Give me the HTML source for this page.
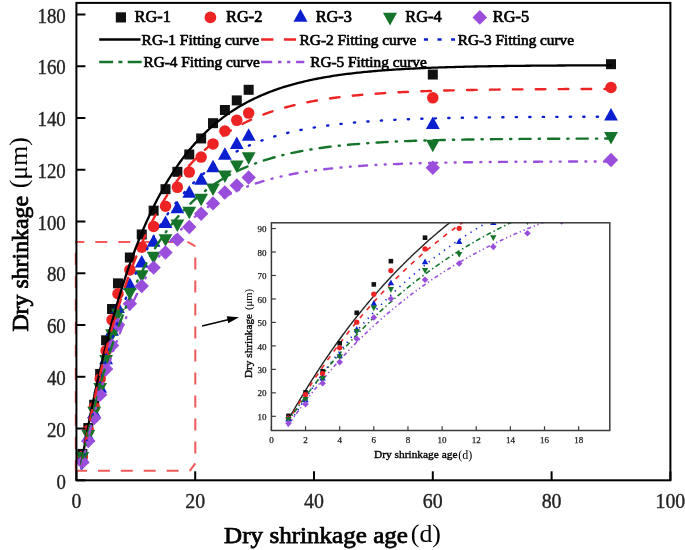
<!DOCTYPE html><html><head><meta charset="utf-8"><style>html,body{margin:0;padding:0;background:#fff;}svg{display:block;filter:blur(0.35px);}text{font-family:"Liberation Serif",serif;}</style></head><body>
<svg width="685" height="550" viewBox="0 0 685 550">
<rect width="685" height="550" fill="#fff"/>
<path d="M75,470.8 L189.8,470.8" fill="none" stroke="#f25a5a" stroke-width="2" stroke-dasharray="12 10.9" stroke-dashoffset="0"/>
<path d="M189.8,470.8 L195.3,463.3" fill="none" stroke="#f25a5a" stroke-width="2"/>
<path d="M195.3,463.3 L195.3,246.2" fill="none" stroke="#f25a5a" stroke-width="2" stroke-dasharray="12 11" stroke-dashoffset="13.3"/>
<path d="M195.3,246.2 L187.6,241.9" fill="none" stroke="#f25a5a" stroke-width="2"/>
<path d="M187.6,241.9 L75,241.9" fill="none" stroke="#f25a5a" stroke-width="2" stroke-dasharray="12 11" stroke-dashoffset="11.7"/>
<path d="M75.8,241.9 L75.8,470.8" fill="none" stroke="#f25a5a" stroke-width="2" stroke-dasharray="12 11" stroke-dashoffset="11.9"/>
<rect x="77.34" y="448.90" width="10.00" height="10.00" fill="#111111"/>
<rect x="83.28" y="423.03" width="10.00" height="10.00" fill="#111111"/>
<rect x="89.22" y="399.74" width="10.00" height="10.00" fill="#111111"/>
<rect x="95.16" y="368.94" width="10.00" height="10.00" fill="#111111"/>
<rect x="101.10" y="335.30" width="10.00" height="10.00" fill="#111111"/>
<rect x="107.04" y="303.99" width="10.00" height="10.00" fill="#111111"/>
<rect x="112.98" y="278.37" width="10.00" height="10.00" fill="#111111"/>
<rect x="124.86" y="252.49" width="10.00" height="10.00" fill="#111111"/>
<rect x="136.74" y="229.46" width="10.00" height="10.00" fill="#111111"/>
<rect x="148.62" y="205.65" width="10.00" height="10.00" fill="#111111"/>
<rect x="160.50" y="184.17" width="10.00" height="10.00" fill="#111111"/>
<rect x="172.38" y="166.83" width="10.00" height="10.00" fill="#111111"/>
<rect x="184.26" y="149.50" width="10.00" height="10.00" fill="#111111"/>
<rect x="196.14" y="133.45" width="10.00" height="10.00" fill="#111111"/>
<rect x="208.02" y="118.18" width="10.00" height="10.00" fill="#111111"/>
<rect x="219.90" y="104.99" width="10.00" height="10.00" fill="#111111"/>
<rect x="231.78" y="95.41" width="10.00" height="10.00" fill="#111111"/>
<rect x="243.66" y="84.80" width="10.00" height="10.00" fill="#111111"/>
<rect x="427.80" y="69.53" width="10.00" height="10.00" fill="#111111"/>
<rect x="606.00" y="59.18" width="10.00" height="10.00" fill="#111111"/>
<circle cx="82.34" cy="456.49" r="5.75" fill="#ee2424"/>
<circle cx="88.28" cy="430.61" r="5.75" fill="#ee2424"/>
<circle cx="94.22" cy="407.32" r="5.75" fill="#ee2424"/>
<circle cx="100.16" cy="378.86" r="5.75" fill="#ee2424"/>
<circle cx="106.10" cy="350.65" r="5.75" fill="#ee2424"/>
<circle cx="112.04" cy="319.86" r="5.75" fill="#ee2424"/>
<circle cx="117.98" cy="293.72" r="5.75" fill="#ee2424"/>
<circle cx="129.86" cy="269.91" r="5.75" fill="#ee2424"/>
<circle cx="141.74" cy="247.14" r="5.75" fill="#ee2424"/>
<circle cx="153.62" cy="226.44" r="5.75" fill="#ee2424"/>
<circle cx="165.50" cy="206.25" r="5.75" fill="#ee2424"/>
<circle cx="177.38" cy="187.36" r="5.75" fill="#ee2424"/>
<circle cx="189.26" cy="172.09" r="5.75" fill="#ee2424"/>
<circle cx="201.14" cy="157.08" r="5.75" fill="#ee2424"/>
<circle cx="213.02" cy="143.89" r="5.75" fill="#ee2424"/>
<circle cx="224.90" cy="130.95" r="5.75" fill="#ee2424"/>
<circle cx="236.78" cy="120.34" r="5.75" fill="#ee2424"/>
<circle cx="248.66" cy="113.09" r="5.75" fill="#ee2424"/>
<circle cx="432.80" cy="97.82" r="5.75" fill="#ee2424"/>
<circle cx="611.00" cy="87.47" r="5.75" fill="#ee2424"/>
<path d="M82.34,450.76L89.24,463.26L75.44,463.26Z" fill="#0b1fd0"/>
<path d="M88.28,429.54L95.18,442.04L81.38,442.04Z" fill="#0b1fd0"/>
<path d="M94.22,405.47L101.12,417.97L87.32,417.97Z" fill="#0b1fd0"/>
<path d="M100.16,380.37L107.06,392.87L93.26,392.87Z" fill="#0b1fd0"/>
<path d="M106.10,351.65L113.00,364.15L99.20,364.15Z" fill="#0b1fd0"/>
<path d="M112.04,323.18L118.94,335.68L105.14,335.68Z" fill="#0b1fd0"/>
<path d="M117.98,300.41L124.88,312.91L111.08,312.91Z" fill="#0b1fd0"/>
<path d="M129.86,277.38L136.76,289.88L122.96,289.88Z" fill="#0b1fd0"/>
<path d="M141.74,255.12L148.64,267.62L134.84,267.62Z" fill="#0b1fd0"/>
<path d="M153.62,234.16L160.52,246.66L146.72,246.66Z" fill="#0b1fd0"/>
<path d="M165.50,215.53L172.40,228.03L158.60,228.03Z" fill="#0b1fd0"/>
<path d="M177.38,200.78L184.28,213.28L170.48,213.28Z" fill="#0b1fd0"/>
<path d="M189.26,185.25L196.16,197.75L182.36,197.75Z" fill="#0b1fd0"/>
<path d="M201.14,172.31L208.04,184.81L194.24,184.81Z" fill="#0b1fd0"/>
<path d="M213.02,159.63L219.92,172.13L206.12,172.13Z" fill="#0b1fd0"/>
<path d="M224.90,147.21L231.80,159.71L218.00,159.71Z" fill="#0b1fd0"/>
<path d="M236.78,136.60L243.68,149.10L229.88,149.10Z" fill="#0b1fd0"/>
<path d="M248.66,128.32L255.56,140.82L241.76,140.82Z" fill="#0b1fd0"/>
<path d="M432.80,116.42L439.70,128.92L425.90,128.92Z" fill="#0b1fd0"/>
<path d="M611.00,107.88L617.90,120.38L604.10,120.38Z" fill="#0b1fd0"/>
<path d="M82.34,464.55L89.24,452.05L75.44,452.05Z" fill="#16742a"/>
<path d="M88.28,442.56L95.18,430.06L81.38,430.06Z" fill="#16742a"/>
<path d="M94.22,419.27L101.12,406.77L87.32,406.77Z" fill="#16742a"/>
<path d="M100.16,395.46L107.06,382.96L93.26,382.96Z" fill="#16742a"/>
<path d="M106.10,367.51L113.00,355.01L99.20,355.01Z" fill="#16742a"/>
<path d="M112.04,341.63L118.94,329.13L105.14,329.13Z" fill="#16742a"/>
<path d="M117.98,321.19L124.88,308.69L111.08,308.69Z" fill="#16742a"/>
<path d="M129.86,300.23L136.76,287.73L122.96,287.73Z" fill="#16742a"/>
<path d="M141.74,282.63L148.64,270.13L134.84,270.13Z" fill="#16742a"/>
<path d="M153.62,264.26L160.52,251.76L146.72,251.76Z" fill="#16742a"/>
<path d="M165.50,246.66L172.40,234.16L158.60,234.16Z" fill="#16742a"/>
<path d="M177.38,231.91L184.28,219.41L170.48,219.41Z" fill="#16742a"/>
<path d="M189.26,219.23L196.16,206.73L182.36,206.73Z" fill="#16742a"/>
<path d="M201.14,206.29L208.04,193.79L194.24,193.79Z" fill="#16742a"/>
<path d="M213.02,195.94L219.92,183.44L206.12,183.44Z" fill="#16742a"/>
<path d="M224.90,183.00L231.80,170.50L218.00,170.50Z" fill="#16742a"/>
<path d="M236.78,172.91L243.68,160.41L229.88,160.41Z" fill="#16742a"/>
<path d="M248.66,164.63L255.56,152.13L241.76,152.13Z" fill="#16742a"/>
<path d="M432.80,152.21L439.70,139.71L425.90,139.71Z" fill="#16742a"/>
<path d="M611.00,144.44L617.90,131.94L604.10,131.94Z" fill="#16742a"/>
<path d="M82.34,454.99L89.54,462.19L82.34,469.39L75.14,462.19Z" fill="#9a4fdc"/>
<path d="M88.28,433.77L95.48,440.97L88.28,448.17L81.08,440.97Z" fill="#9a4fdc"/>
<path d="M94.22,410.73L101.42,417.93L94.22,425.13L87.02,417.93Z" fill="#9a4fdc"/>
<path d="M100.16,387.44L107.36,394.64L100.16,401.84L92.96,394.64Z" fill="#9a4fdc"/>
<path d="M106.10,361.82L113.30,369.02L106.10,376.22L98.90,369.02Z" fill="#9a4fdc"/>
<path d="M112.04,338.28L119.24,345.48L112.04,352.68L104.84,345.48Z" fill="#9a4fdc"/>
<path d="M117.98,317.57L125.18,324.77L117.98,331.97L110.78,324.77Z" fill="#9a4fdc"/>
<path d="M129.86,296.61L137.06,303.81L129.86,311.01L122.66,303.81Z" fill="#9a4fdc"/>
<path d="M141.74,278.76L148.94,285.96L141.74,293.16L134.54,285.96Z" fill="#9a4fdc"/>
<path d="M153.62,260.38L160.82,267.58L153.62,274.78L146.42,267.58Z" fill="#9a4fdc"/>
<path d="M165.50,245.37L172.70,252.57L165.50,259.77L158.30,252.57Z" fill="#9a4fdc"/>
<path d="M177.38,232.43L184.58,239.63L177.38,246.83L170.18,239.63Z" fill="#9a4fdc"/>
<path d="M189.26,219.75L196.46,226.95L189.26,234.15L182.06,226.95Z" fill="#9a4fdc"/>
<path d="M201.14,206.56L208.34,213.76L201.14,220.96L193.94,213.76Z" fill="#9a4fdc"/>
<path d="M213.02,196.21L220.22,203.41L213.02,210.61L205.82,203.41Z" fill="#9a4fdc"/>
<path d="M224.90,185.34L232.10,192.54L224.90,199.74L217.70,192.54Z" fill="#9a4fdc"/>
<path d="M236.78,178.35L243.98,185.55L236.78,192.75L229.58,185.55Z" fill="#9a4fdc"/>
<path d="M248.66,170.33L255.86,177.53L248.66,184.73L241.46,177.53Z" fill="#9a4fdc"/>
<path d="M432.80,160.49L440.00,167.69L432.80,174.89L425.60,167.69Z" fill="#9a4fdc"/>
<path d="M611.00,152.73L618.20,159.93L611.00,167.13L603.80,159.93Z" fill="#9a4fdc"/>
<path d="M81.45,462.79 L83.22,452.83 L84.99,443.13 L86.76,433.67 L88.53,424.45 L90.30,415.45 L92.08,406.69 L93.85,398.14 L95.62,389.80 L97.39,381.68 L99.16,373.75 L100.93,366.03 L102.70,358.50 L104.47,351.16 L106.24,344.00 L108.02,337.02 L109.79,330.21 L111.56,323.58 L113.33,317.11 L115.10,310.80 L116.87,304.65 L118.64,298.66 L120.41,292.81 L122.18,287.11 L123.95,281.56 L125.73,276.14 L127.50,270.86 L129.27,265.71 L131.04,260.69 L132.81,255.79 L134.58,251.02 L136.35,246.37 L138.12,241.83 L139.89,237.41 L141.67,233.10 L143.44,228.89 L145.21,224.79 L146.98,220.80 L148.75,216.90 L150.52,213.10 L152.29,209.40 L154.06,205.78 L155.83,202.26 L157.61,198.83 L159.38,195.48 L161.15,192.22 L162.92,189.04 L164.69,185.94 L166.46,182.91 L168.23,179.96 L170.00,177.09 L171.77,174.29 L173.54,171.55 L175.32,168.89 L177.09,166.29 L178.86,163.76 L180.63,161.29 L182.40,158.88 L184.17,156.53 L185.94,154.25 L187.71,152.02 L189.48,149.84 L191.26,147.72 L193.03,145.65 L194.80,143.63 L196.57,141.67 L198.34,139.75 L200.11,137.88 L201.88,136.06 L203.65,134.29 L205.42,132.55 L207.20,130.87 L208.97,129.22 L210.74,127.62 L212.51,126.05 L214.28,124.52 L216.05,123.04 L217.82,121.59 L219.59,120.17 L221.36,118.79 L223.13,117.45 L224.91,116.14 L226.68,114.86 L228.45,113.62 L230.22,112.40 L231.99,111.22 L233.76,110.06 L235.53,108.94 L237.30,107.84 L239.07,106.77 L240.85,105.73 L242.62,104.71 L244.39,103.72 L246.16,102.75 L247.93,101.81 L249.70,100.89 L251.47,100.00 L253.24,99.12 L255.01,98.27 L256.79,97.44 L258.56,96.63 L260.33,95.84 L262.10,95.07 L263.87,94.32 L265.64,93.59 L267.41,92.88 L269.18,92.18 L270.95,91.50 L272.72,90.84 L274.50,90.20 L276.27,89.57 L278.04,88.96 L279.81,88.36 L281.58,87.78 L283.35,87.21 L285.12,86.65 L286.89,86.12 L288.66,85.59 L290.44,85.08 L292.21,84.58 L293.98,84.09 L295.75,83.61 L297.52,83.15 L299.29,82.70 L301.06,82.26 L302.83,81.83 L304.60,81.41 L306.38,81.00 L308.15,80.60 L309.92,80.21 L311.69,79.83 L313.46,79.47 L315.23,79.11 L317.00,78.75 L318.77,78.41 L320.54,78.08 L322.32,77.75 L324.09,77.44 L325.86,77.13 L327.63,76.83 L329.40,76.53 L331.17,76.25 L332.94,75.97 L334.71,75.69 L336.48,75.43 L338.25,75.17 L340.03,74.92 L341.80,74.67 L343.57,74.43 L345.34,74.20 L347.11,73.97 L348.88,73.75 L350.65,73.53 L352.42,73.32 L354.19,73.11 L355.97,72.91 L357.74,72.72 L359.51,72.53 L361.28,72.34 L363.05,72.16 L364.82,71.98 L366.59,71.81 L368.36,71.64 L370.13,71.48 L371.91,71.32 L373.68,71.16 L375.45,71.01 L377.22,70.86 L378.99,70.72 L380.76,70.58 L382.53,70.44 L384.30,70.30 L386.07,70.17 L387.84,70.05 L389.62,69.92 L391.39,69.80 L393.16,69.68 L394.93,69.57 L396.70,69.46 L398.47,69.35 L400.24,69.24 L402.01,69.14 L403.78,69.04 L405.56,68.94 L407.33,68.84 L409.10,68.75 L410.87,68.65 L412.64,68.57 L414.41,68.48 L416.18,68.39 L417.95,68.31 L419.72,68.23 L421.50,68.15 L423.27,68.07 L425.04,68.00 L426.81,67.93 L428.58,67.86 L430.35,67.79 L432.12,67.72 L433.89,67.65 L435.66,67.59 L437.43,67.53 L439.21,67.47 L440.98,67.41 L442.75,67.35 L444.52,67.29 L446.29,67.24 L448.06,67.18 L449.83,67.13 L451.60,67.08 L453.37,67.03 L455.15,66.98 L456.92,66.93 L458.69,66.89 L460.46,66.84 L462.23,66.80 L464.00,66.76 L465.77,66.71 L467.54,66.67 L469.31,66.63 L471.09,66.59 L472.86,66.56 L474.63,66.52 L476.40,66.48 L478.17,66.45 L479.94,66.42 L481.71,66.38 L483.48,66.35 L485.25,66.32 L487.02,66.29 L488.80,66.26 L490.57,66.23 L492.34,66.20 L494.11,66.17 L495.88,66.14 L497.65,66.12 L499.42,66.09 L501.19,66.07 L502.96,66.04 L504.74,66.02 L506.51,66.00 L508.28,65.97 L510.05,65.95 L511.82,65.93 L513.59,65.91 L515.36,65.89 L517.13,65.87 L518.90,65.85 L520.68,65.83 L522.45,65.81 L524.22,65.79 L525.99,65.77 L527.76,65.76 L529.53,65.74 L531.30,65.72 L533.07,65.71 L534.84,65.69 L536.61,65.68 L538.39,65.66 L540.16,65.65 L541.93,65.63 L543.70,65.62 L545.47,65.61 L547.24,65.59 L549.01,65.58 L550.78,65.57 L552.55,65.56 L554.33,65.55 L556.10,65.53 L557.87,65.52 L559.64,65.51 L561.41,65.50 L563.18,65.49 L564.95,65.48 L566.72,65.47 L568.49,65.46 L570.27,65.45 L572.04,65.44 L573.81,65.43 L575.58,65.43 L577.35,65.42 L579.12,65.41 L580.89,65.40 L582.66,65.39 L584.43,65.39 L586.20,65.38 L587.98,65.37 L589.75,65.36 L591.52,65.36 L593.29,65.35 L595.06,65.34 L596.83,65.34 L598.60,65.33 L600.37,65.32 L602.14,65.32 L603.92,65.31 L605.69,65.31 L607.46,65.30 L609.23,65.30 L611.00,65.29" fill="none" stroke="#000" stroke-width="2.3" stroke-linecap="round"/>
<path d="M81.45,464.61 L83.22,454.94 L84.99,445.52 L86.76,436.34 L88.53,427.39 L90.30,418.68 L92.08,410.19 L93.85,401.92 L95.62,393.86 L97.39,386.01 L99.16,378.36 L100.93,370.90 L102.70,363.64 L104.47,356.57 L106.24,349.68 L108.02,342.96 L109.79,336.42 L111.56,330.05 L113.33,323.84 L115.10,317.79 L116.87,311.90 L118.64,306.15 L120.41,300.56 L122.18,295.11 L123.95,289.80 L125.73,284.63 L127.50,279.58 L129.27,274.67 L131.04,269.89 L132.81,265.23 L134.58,260.69 L136.35,256.26 L138.12,251.95 L139.89,247.75 L141.67,243.66 L143.44,239.68 L145.21,235.79 L146.98,232.01 L148.75,228.32 L150.52,224.73 L152.29,221.23 L154.06,217.82 L155.83,214.50 L157.61,211.27 L159.38,208.11 L161.15,205.04 L162.92,202.05 L164.69,199.13 L166.46,196.29 L168.23,193.53 L170.00,190.83 L171.77,188.20 L173.54,185.64 L175.32,183.15 L177.09,180.72 L178.86,178.36 L180.63,176.05 L182.40,173.80 L184.17,171.62 L185.94,169.48 L187.71,167.41 L189.48,165.38 L191.26,163.41 L193.03,161.49 L194.80,159.62 L196.57,157.79 L198.34,156.02 L200.11,154.29 L201.88,152.60 L203.65,150.96 L205.42,149.36 L207.20,147.80 L208.97,146.28 L210.74,144.80 L212.51,143.36 L214.28,141.95 L216.05,140.58 L217.82,139.25 L219.59,137.95 L221.36,136.68 L223.13,135.45 L224.91,134.25 L226.68,133.08 L228.45,131.94 L230.22,130.83 L231.99,129.75 L233.76,128.69 L235.53,127.66 L237.30,126.66 L239.07,125.69 L240.85,124.74 L242.62,123.81 L244.39,122.91 L246.16,122.03 L247.93,121.17 L249.70,120.34 L251.47,119.53 L253.24,118.74 L255.01,117.96 L256.79,117.21 L258.56,116.48 L260.33,115.77 L262.10,115.07 L263.87,114.40 L265.64,113.74 L267.41,113.09 L269.18,112.47 L270.95,111.86 L272.72,111.26 L274.50,110.68 L276.27,110.12 L278.04,109.57 L279.81,109.03 L281.58,108.51 L283.35,108.00 L285.12,107.51 L286.89,107.03 L288.66,106.56 L290.44,106.10 L292.21,105.65 L293.98,105.22 L295.75,104.80 L297.52,104.38 L299.29,103.98 L301.06,103.59 L302.83,103.21 L304.60,102.84 L306.38,102.47 L308.15,102.12 L309.92,101.78 L311.69,101.44 L313.46,101.12 L315.23,100.80 L317.00,100.49 L318.77,100.19 L320.54,99.89 L322.32,99.61 L324.09,99.33 L325.86,99.06 L327.63,98.79 L329.40,98.53 L331.17,98.28 L332.94,98.04 L334.71,97.80 L336.48,97.56 L338.25,97.34 L340.03,97.12 L341.80,96.90 L343.57,96.69 L345.34,96.49 L347.11,96.29 L348.88,96.10 L350.65,95.91 L352.42,95.72 L354.19,95.54 L355.97,95.37 L357.74,95.20 L359.51,95.03 L361.28,94.87 L363.05,94.72 L364.82,94.56 L366.59,94.41 L368.36,94.27 L370.13,94.13 L371.91,93.99 L373.68,93.85 L375.45,93.72 L377.22,93.60 L378.99,93.47 L380.76,93.35 L382.53,93.23 L384.30,93.12 L386.07,93.00 L387.84,92.90 L389.62,92.79 L391.39,92.69 L393.16,92.58 L394.93,92.49 L396.70,92.39 L398.47,92.30 L400.24,92.21 L402.01,92.12 L403.78,92.03 L405.56,91.95 L407.33,91.87 L409.10,91.79 L410.87,91.71 L412.64,91.63 L414.41,91.56 L416.18,91.49 L417.95,91.42 L419.72,91.35 L421.50,91.28 L423.27,91.22 L425.04,91.15 L426.81,91.09 L428.58,91.03 L430.35,90.97 L432.12,90.92 L433.89,90.86 L435.66,90.81 L437.43,90.75 L439.21,90.70 L440.98,90.65 L442.75,90.60 L444.52,90.56 L446.29,90.51 L448.06,90.47 L449.83,90.42 L451.60,90.38 L453.37,90.34 L455.15,90.30 L456.92,90.26 L458.69,90.22 L460.46,90.18 L462.23,90.15 L464.00,90.11 L465.77,90.08 L467.54,90.04 L469.31,90.01 L471.09,89.98 L472.86,89.95 L474.63,89.92 L476.40,89.89 L478.17,89.86 L479.94,89.83 L481.71,89.80 L483.48,89.77 L485.25,89.75 L487.02,89.72 L488.80,89.70 L490.57,89.67 L492.34,89.65 L494.11,89.63 L495.88,89.61 L497.65,89.58 L499.42,89.56 L501.19,89.54 L502.96,89.52 L504.74,89.50 L506.51,89.48 L508.28,89.47 L510.05,89.45 L511.82,89.43 L513.59,89.41 L515.36,89.40 L517.13,89.38 L518.90,89.36 L520.68,89.35 L522.45,89.33 L524.22,89.32 L525.99,89.30 L527.76,89.29 L529.53,89.28 L531.30,89.26 L533.07,89.25 L534.84,89.24 L536.61,89.23 L538.39,89.21 L540.16,89.20 L541.93,89.19 L543.70,89.18 L545.47,89.17 L547.24,89.16 L549.01,89.15 L550.78,89.14 L552.55,89.13 L554.33,89.12 L556.10,89.11 L557.87,89.10 L559.64,89.09 L561.41,89.08 L563.18,89.08 L564.95,89.07 L566.72,89.06 L568.49,89.05 L570.27,89.05 L572.04,89.04 L573.81,89.03 L575.58,89.02 L577.35,89.02 L579.12,89.01 L580.89,89.00 L582.66,89.00 L584.43,88.99 L586.20,88.99 L587.98,88.98 L589.75,88.97 L591.52,88.97 L593.29,88.96 L595.06,88.96 L596.83,88.95 L598.60,88.95 L600.37,88.94 L602.14,88.94 L603.92,88.94 L605.69,88.93 L607.46,88.93 L609.23,88.92 L611.00,88.92" fill="none" stroke="#ee2424" stroke-width="2.4" stroke-linecap="round" stroke-dasharray="9.6 13.3"/>
<path d="M81.45,468.45 L83.22,459.29 L84.99,450.37 L86.76,441.68 L88.53,433.22 L90.30,424.98 L92.08,416.95 L93.85,409.13 L95.62,401.52 L97.39,394.10 L99.16,386.88 L100.93,379.84 L102.70,372.99 L104.47,366.31 L106.24,359.81 L108.02,353.48 L109.79,347.31 L111.56,341.31 L113.33,335.46 L115.10,329.76 L116.87,324.21 L118.64,318.81 L120.41,313.54 L122.18,308.41 L123.95,303.42 L125.73,298.56 L127.50,293.82 L129.27,289.20 L131.04,284.71 L132.81,280.33 L134.58,276.07 L136.35,271.92 L138.12,267.88 L139.89,263.94 L141.67,260.10 L143.44,256.36 L145.21,252.73 L146.98,249.18 L148.75,245.73 L150.52,242.37 L152.29,239.09 L154.06,235.90 L155.83,232.80 L157.61,229.77 L159.38,226.82 L161.15,223.95 L162.92,221.16 L164.69,218.43 L166.46,215.78 L168.23,213.20 L170.00,210.68 L171.77,208.23 L173.54,205.85 L175.32,203.52 L177.09,201.26 L178.86,199.06 L180.63,196.91 L182.40,194.82 L184.17,192.78 L185.94,190.79 L187.71,188.86 L189.48,186.98 L191.26,185.15 L193.03,183.36 L194.80,181.62 L196.57,179.93 L198.34,178.28 L200.11,176.67 L201.88,175.11 L203.65,173.58 L205.42,172.10 L207.20,170.65 L208.97,169.25 L210.74,167.87 L212.51,166.54 L214.28,165.24 L216.05,163.97 L217.82,162.74 L219.59,161.53 L221.36,160.36 L223.13,159.22 L224.91,158.11 L226.68,157.03 L228.45,155.98 L230.22,154.95 L231.99,153.95 L233.76,152.98 L235.53,152.03 L237.30,151.10 L239.07,150.21 L240.85,149.33 L242.62,148.48 L244.39,147.65 L246.16,146.84 L247.93,146.05 L249.70,145.28 L251.47,144.53 L253.24,143.80 L255.01,143.09 L256.79,142.40 L258.56,141.73 L260.33,141.07 L262.10,140.44 L263.87,139.81 L265.64,139.21 L267.41,138.62 L269.18,138.05 L270.95,137.49 L272.72,136.94 L274.50,136.41 L276.27,135.89 L278.04,135.39 L279.81,134.90 L281.58,134.42 L283.35,133.96 L285.12,133.50 L286.89,133.06 L288.66,132.63 L290.44,132.21 L292.21,131.81 L293.98,131.41 L295.75,131.02 L297.52,130.65 L299.29,130.28 L301.06,129.92 L302.83,129.57 L304.60,129.23 L306.38,128.90 L308.15,128.58 L309.92,128.27 L311.69,127.96 L313.46,127.67 L315.23,127.38 L317.00,127.10 L318.77,126.82 L320.54,126.55 L322.32,126.29 L324.09,126.04 L325.86,125.79 L327.63,125.55 L329.40,125.32 L331.17,125.09 L332.94,124.87 L334.71,124.65 L336.48,124.44 L338.25,124.23 L340.03,124.03 L341.80,123.84 L343.57,123.65 L345.34,123.46 L347.11,123.28 L348.88,123.11 L350.65,122.94 L352.42,122.77 L354.19,122.61 L355.97,122.45 L357.74,122.30 L359.51,122.15 L361.28,122.00 L363.05,121.86 L364.82,121.72 L366.59,121.59 L368.36,121.46 L370.13,121.33 L371.91,121.21 L373.68,121.08 L375.45,120.97 L377.22,120.85 L378.99,120.74 L380.76,120.63 L382.53,120.52 L384.30,120.42 L386.07,120.32 L387.84,120.22 L389.62,120.13 L391.39,120.03 L393.16,119.94 L394.93,119.85 L396.70,119.77 L398.47,119.68 L400.24,119.60 L402.01,119.52 L403.78,119.45 L405.56,119.37 L407.33,119.30 L409.10,119.22 L410.87,119.16 L412.64,119.09 L414.41,119.02 L416.18,118.96 L417.95,118.89 L419.72,118.83 L421.50,118.77 L423.27,118.72 L425.04,118.66 L426.81,118.60 L428.58,118.55 L430.35,118.50 L432.12,118.45 L433.89,118.40 L435.66,118.35 L437.43,118.30 L439.21,118.26 L440.98,118.21 L442.75,118.17 L444.52,118.13 L446.29,118.09 L448.06,118.05 L449.83,118.01 L451.60,117.97 L453.37,117.93 L455.15,117.90 L456.92,117.86 L458.69,117.83 L460.46,117.79 L462.23,117.76 L464.00,117.73 L465.77,117.70 L467.54,117.67 L469.31,117.64 L471.09,117.61 L472.86,117.58 L474.63,117.56 L476.40,117.53 L478.17,117.51 L479.94,117.48 L481.71,117.46 L483.48,117.43 L485.25,117.41 L487.02,117.39 L488.80,117.37 L490.57,117.34 L492.34,117.32 L494.11,117.30 L495.88,117.28 L497.65,117.26 L499.42,117.25 L501.19,117.23 L502.96,117.21 L504.74,117.19 L506.51,117.18 L508.28,117.16 L510.05,117.14 L511.82,117.13 L513.59,117.11 L515.36,117.10 L517.13,117.08 L518.90,117.07 L520.68,117.06 L522.45,117.04 L524.22,117.03 L525.99,117.02 L527.76,117.01 L529.53,116.99 L531.30,116.98 L533.07,116.97 L534.84,116.96 L536.61,116.95 L538.39,116.94 L540.16,116.93 L541.93,116.92 L543.70,116.91 L545.47,116.90 L547.24,116.89 L549.01,116.88 L550.78,116.87 L552.55,116.86 L554.33,116.86 L556.10,116.85 L557.87,116.84 L559.64,116.83 L561.41,116.83 L563.18,116.82 L564.95,116.81 L566.72,116.80 L568.49,116.80 L570.27,116.79 L572.04,116.78 L573.81,116.78 L575.58,116.77 L577.35,116.77 L579.12,116.76 L580.89,116.76 L582.66,116.75 L584.43,116.75 L586.20,116.74 L587.98,116.74 L589.75,116.73 L591.52,116.73 L593.29,116.72 L595.06,116.72 L596.83,116.71 L598.60,116.71 L600.37,116.70 L602.14,116.70 L603.92,116.70 L605.69,116.69 L607.46,116.69 L609.23,116.68 L611.00,116.68" fill="none" stroke="#0b1fd0" stroke-width="2.4" stroke-linecap="round" stroke-dasharray="1.2 12.3"/>
<path d="M81.45,463.79 L83.22,455.40 L84.99,447.22 L86.76,439.25 L88.53,431.49 L90.30,423.93 L92.08,416.57 L93.85,409.39 L95.62,402.41 L97.39,395.60 L99.16,388.96 L100.93,382.50 L102.70,376.20 L104.47,370.07 L106.24,364.09 L108.02,358.27 L109.79,352.60 L111.56,347.08 L113.33,341.70 L115.10,336.45 L116.87,331.34 L118.64,326.37 L120.41,321.52 L122.18,316.80 L123.95,312.20 L125.73,307.71 L127.50,303.35 L129.27,299.09 L131.04,294.95 L132.81,290.91 L134.58,286.98 L136.35,283.14 L138.12,279.41 L139.89,275.77 L141.67,272.23 L143.44,268.78 L145.21,265.42 L146.98,262.14 L148.75,258.95 L150.52,255.84 L152.29,252.81 L154.06,249.86 L155.83,246.99 L157.61,244.19 L159.38,241.46 L161.15,238.80 L162.92,236.21 L164.69,233.69 L166.46,231.23 L168.23,228.84 L170.00,226.51 L171.77,224.23 L173.54,222.02 L175.32,219.86 L177.09,217.76 L178.86,215.72 L180.63,213.72 L182.40,211.78 L184.17,209.89 L185.94,208.05 L187.71,206.25 L189.48,204.50 L191.26,202.80 L193.03,201.14 L194.80,199.52 L196.57,197.94 L198.34,196.41 L200.11,194.91 L201.88,193.45 L203.65,192.03 L205.42,190.65 L207.20,189.30 L208.97,187.99 L210.74,186.71 L212.51,185.47 L214.28,184.25 L216.05,183.07 L217.82,181.92 L219.59,180.80 L221.36,179.71 L223.13,178.64 L224.91,177.60 L226.68,176.59 L228.45,175.61 L230.22,174.65 L231.99,173.71 L233.76,172.80 L235.53,171.92 L237.30,171.05 L239.07,170.21 L240.85,169.39 L242.62,168.59 L244.39,167.82 L246.16,167.06 L247.93,166.32 L249.70,165.60 L251.47,164.90 L253.24,164.22 L255.01,163.55 L256.79,162.90 L258.56,162.27 L260.33,161.66 L262.10,161.06 L263.87,160.47 L265.64,159.90 L267.41,159.35 L269.18,158.81 L270.95,158.28 L272.72,157.77 L274.50,157.27 L276.27,156.79 L278.04,156.31 L279.81,155.85 L281.58,155.40 L283.35,154.96 L285.12,154.54 L286.89,154.12 L288.66,153.72 L290.44,153.32 L292.21,152.94 L293.98,152.56 L295.75,152.20 L297.52,151.84 L299.29,151.50 L301.06,151.16 L302.83,150.83 L304.60,150.51 L306.38,150.20 L308.15,149.90 L309.92,149.60 L311.69,149.31 L313.46,149.03 L315.23,148.76 L317.00,148.49 L318.77,148.23 L320.54,147.98 L322.32,147.73 L324.09,147.49 L325.86,147.26 L327.63,147.03 L329.40,146.81 L331.17,146.59 L332.94,146.38 L334.71,146.18 L336.48,145.98 L338.25,145.78 L340.03,145.59 L341.80,145.41 L343.57,145.23 L345.34,145.05 L347.11,144.88 L348.88,144.71 L350.65,144.55 L352.42,144.39 L354.19,144.24 L355.97,144.09 L357.74,143.94 L359.51,143.80 L361.28,143.66 L363.05,143.53 L364.82,143.40 L366.59,143.27 L368.36,143.14 L370.13,143.02 L371.91,142.90 L373.68,142.79 L375.45,142.67 L377.22,142.57 L378.99,142.46 L380.76,142.35 L382.53,142.25 L384.30,142.15 L386.07,142.06 L387.84,141.96 L389.62,141.87 L391.39,141.78 L393.16,141.70 L394.93,141.61 L396.70,141.53 L398.47,141.45 L400.24,141.37 L402.01,141.30 L403.78,141.22 L405.56,141.15 L407.33,141.08 L409.10,141.01 L410.87,140.95 L412.64,140.88 L414.41,140.82 L416.18,140.76 L417.95,140.70 L419.72,140.64 L421.50,140.58 L423.27,140.52 L425.04,140.47 L426.81,140.42 L428.58,140.37 L430.35,140.32 L432.12,140.27 L433.89,140.22 L435.66,140.17 L437.43,140.13 L439.21,140.08 L440.98,140.04 L442.75,140.00 L444.52,139.96 L446.29,139.92 L448.06,139.88 L449.83,139.84 L451.60,139.81 L453.37,139.77 L455.15,139.74 L456.92,139.70 L458.69,139.67 L460.46,139.64 L462.23,139.61 L464.00,139.58 L465.77,139.55 L467.54,139.52 L469.31,139.49 L471.09,139.46 L472.86,139.44 L474.63,139.41 L476.40,139.38 L478.17,139.36 L479.94,139.33 L481.71,139.31 L483.48,139.29 L485.25,139.27 L487.02,139.24 L488.80,139.22 L490.57,139.20 L492.34,139.18 L494.11,139.16 L495.88,139.14 L497.65,139.13 L499.42,139.11 L501.19,139.09 L502.96,139.07 L504.74,139.06 L506.51,139.04 L508.28,139.02 L510.05,139.01 L511.82,138.99 L513.59,138.98 L515.36,138.96 L517.13,138.95 L518.90,138.94 L520.68,138.92 L522.45,138.91 L524.22,138.90 L525.99,138.89 L527.76,138.87 L529.53,138.86 L531.30,138.85 L533.07,138.84 L534.84,138.83 L536.61,138.82 L538.39,138.81 L540.16,138.80 L541.93,138.79 L543.70,138.78 L545.47,138.77 L547.24,138.76 L549.01,138.75 L550.78,138.75 L552.55,138.74 L554.33,138.73 L556.10,138.72 L557.87,138.71 L559.64,138.71 L561.41,138.70 L563.18,138.69 L564.95,138.69 L566.72,138.68 L568.49,138.67 L570.27,138.67 L572.04,138.66 L573.81,138.65 L575.58,138.65 L577.35,138.64 L579.12,138.64 L580.89,138.63 L582.66,138.63 L584.43,138.62 L586.20,138.62 L587.98,138.61 L589.75,138.61 L591.52,138.60 L593.29,138.60 L595.06,138.59 L596.83,138.59 L598.60,138.58 L600.37,138.58 L602.14,138.58 L603.92,138.57 L605.69,138.57 L607.46,138.56 L609.23,138.56 L611.00,138.56" fill="none" stroke="#16742a" stroke-width="2.4" stroke-linecap="round" stroke-dasharray="11.2 8.1 1.2 8.1"/>
<path d="M81.45,467.79 L83.22,459.72 L84.99,451.86 L86.76,444.20 L88.53,436.75 L90.30,429.49 L92.08,422.43 L93.85,415.55 L95.62,408.85 L97.39,402.33 L99.16,395.98 L100.93,389.80 L102.70,383.78 L104.47,377.92 L106.24,372.21 L108.02,366.66 L109.79,361.25 L111.56,355.98 L113.33,350.85 L115.10,345.86 L116.87,341.00 L118.64,336.26 L120.41,331.66 L122.18,327.17 L123.95,322.80 L125.73,318.55 L127.50,314.40 L129.27,310.37 L131.04,306.44 L132.81,302.62 L134.58,298.90 L136.35,295.28 L138.12,291.75 L139.89,288.31 L141.67,284.97 L143.44,281.71 L145.21,278.54 L146.98,275.45 L148.75,272.44 L150.52,269.52 L152.29,266.67 L154.06,263.89 L155.83,261.19 L157.61,258.56 L159.38,256.00 L161.15,253.51 L162.92,251.08 L164.69,248.71 L166.46,246.41 L168.23,244.17 L170.00,241.99 L171.77,239.87 L173.54,237.80 L175.32,235.78 L177.09,233.82 L178.86,231.91 L180.63,230.05 L182.40,228.24 L184.17,226.48 L185.94,224.77 L187.71,223.09 L189.48,221.47 L191.26,219.88 L193.03,218.34 L194.80,216.84 L196.57,215.38 L198.34,213.96 L200.11,212.57 L201.88,211.22 L203.65,209.91 L205.42,208.63 L207.20,207.38 L208.97,206.17 L210.74,204.99 L212.51,203.84 L214.28,202.72 L216.05,201.63 L217.82,200.57 L219.59,199.54 L221.36,198.53 L223.13,197.55 L224.91,196.60 L226.68,195.67 L228.45,194.77 L230.22,193.89 L231.99,193.03 L233.76,192.19 L235.53,191.38 L237.30,190.59 L239.07,189.82 L240.85,189.07 L242.62,188.34 L244.39,187.63 L246.16,186.94 L247.93,186.26 L249.70,185.61 L251.47,184.97 L253.24,184.35 L255.01,183.74 L256.79,183.15 L258.56,182.58 L260.33,182.02 L262.10,181.47 L263.87,180.94 L265.64,180.43 L267.41,179.93 L269.18,179.44 L270.95,178.96 L272.72,178.50 L274.50,178.05 L276.27,177.61 L278.04,177.18 L279.81,176.76 L281.58,176.36 L283.35,175.96 L285.12,175.58 L286.89,175.20 L288.66,174.84 L290.44,174.48 L292.21,174.14 L293.98,173.80 L295.75,173.47 L297.52,173.15 L299.29,172.84 L301.06,172.54 L302.83,172.25 L304.60,171.96 L306.38,171.68 L308.15,171.41 L309.92,171.14 L311.69,170.89 L313.46,170.63 L315.23,170.39 L317.00,170.15 L318.77,169.92 L320.54,169.70 L322.32,169.48 L324.09,169.26 L325.86,169.05 L327.63,168.85 L329.40,168.65 L331.17,168.46 L332.94,168.28 L334.71,168.09 L336.48,167.92 L338.25,167.74 L340.03,167.57 L341.80,167.41 L343.57,167.25 L345.34,167.10 L347.11,166.95 L348.88,166.80 L350.65,166.66 L352.42,166.52 L354.19,166.38 L355.97,166.25 L357.74,166.12 L359.51,165.99 L361.28,165.87 L363.05,165.75 L364.82,165.64 L366.59,165.53 L368.36,165.42 L370.13,165.31 L371.91,165.20 L373.68,165.10 L375.45,165.00 L377.22,164.91 L378.99,164.82 L380.76,164.72 L382.53,164.64 L384.30,164.55 L386.07,164.47 L387.84,164.38 L389.62,164.30 L391.39,164.23 L393.16,164.15 L394.93,164.08 L396.70,164.01 L398.47,163.94 L400.24,163.87 L402.01,163.80 L403.78,163.74 L405.56,163.68 L407.33,163.62 L409.10,163.56 L410.87,163.50 L412.64,163.44 L414.41,163.39 L416.18,163.33 L417.95,163.28 L419.72,163.23 L421.50,163.18 L423.27,163.13 L425.04,163.09 L426.81,163.04 L428.58,163.00 L430.35,162.96 L432.12,162.91 L433.89,162.87 L435.66,162.83 L437.43,162.79 L439.21,162.76 L440.98,162.72 L442.75,162.68 L444.52,162.65 L446.29,162.62 L448.06,162.58 L449.83,162.55 L451.60,162.52 L453.37,162.49 L455.15,162.46 L456.92,162.43 L458.69,162.40 L460.46,162.37 L462.23,162.35 L464.00,162.32 L465.77,162.30 L467.54,162.27 L469.31,162.25 L471.09,162.22 L472.86,162.20 L474.63,162.18 L476.40,162.16 L478.17,162.14 L479.94,162.12 L481.71,162.10 L483.48,162.08 L485.25,162.06 L487.02,162.04 L488.80,162.02 L490.57,162.01 L492.34,161.99 L494.11,161.97 L495.88,161.96 L497.65,161.94 L499.42,161.93 L501.19,161.91 L502.96,161.90 L504.74,161.88 L506.51,161.87 L508.28,161.86 L510.05,161.84 L511.82,161.83 L513.59,161.82 L515.36,161.81 L517.13,161.79 L518.90,161.78 L520.68,161.77 L522.45,161.76 L524.22,161.75 L525.99,161.74 L527.76,161.73 L529.53,161.72 L531.30,161.71 L533.07,161.70 L534.84,161.69 L536.61,161.68 L538.39,161.68 L540.16,161.67 L541.93,161.66 L543.70,161.65 L545.47,161.64 L547.24,161.64 L549.01,161.63 L550.78,161.62 L552.55,161.62 L554.33,161.61 L556.10,161.60 L557.87,161.60 L559.64,161.59 L561.41,161.58 L563.18,161.58 L564.95,161.57 L566.72,161.57 L568.49,161.56 L570.27,161.56 L572.04,161.55 L573.81,161.55 L575.58,161.54 L577.35,161.54 L579.12,161.53 L580.89,161.53 L582.66,161.52 L584.43,161.52 L586.20,161.52 L587.98,161.51 L589.75,161.51 L591.52,161.50 L593.29,161.50 L595.06,161.50 L596.83,161.49 L598.60,161.49 L600.37,161.49 L602.14,161.48 L603.92,161.48 L605.69,161.48 L607.46,161.47 L609.23,161.47 L611.00,161.47" fill="none" stroke="#9a4fdc" stroke-width="2.4" stroke-linecap="round" stroke-dasharray="8 8.4 0.9 8.4 0.9 8.4"/>
<g stroke="#000" fill="none">
<rect x="76.4" y="2.9" width="594" height="477.4" stroke-width="2.0"/>
<line x1="76.4" y1="480.30" x2="85.4" y2="480.30" stroke-width="2"/>
<line x1="76.4" y1="428.54" x2="85.4" y2="428.54" stroke-width="2"/>
<line x1="76.4" y1="376.79" x2="85.4" y2="376.79" stroke-width="2"/>
<line x1="76.4" y1="325.03" x2="85.4" y2="325.03" stroke-width="2"/>
<line x1="76.4" y1="273.28" x2="85.4" y2="273.28" stroke-width="2"/>
<line x1="76.4" y1="221.52" x2="85.4" y2="221.52" stroke-width="2"/>
<line x1="76.4" y1="169.76" x2="85.4" y2="169.76" stroke-width="2"/>
<line x1="76.4" y1="118.01" x2="85.4" y2="118.01" stroke-width="2"/>
<line x1="76.4" y1="66.25" x2="85.4" y2="66.25" stroke-width="2"/>
<line x1="76.4" y1="14.50" x2="85.4" y2="14.50" stroke-width="2"/>
<line x1="76.40" y1="480.3" x2="76.40" y2="471.3" stroke-width="2"/>
<line x1="195.20" y1="480.3" x2="195.20" y2="471.3" stroke-width="2"/>
<line x1="314.00" y1="480.3" x2="314.00" y2="471.3" stroke-width="2"/>
<line x1="432.80" y1="480.3" x2="432.80" y2="471.3" stroke-width="2"/>
<line x1="551.60" y1="480.3" x2="551.60" y2="471.3" stroke-width="2"/>
<line x1="670.40" y1="480.3" x2="670.40" y2="471.3" stroke-width="2"/>
</g>
<text x="65.8" y="488.50" font-size="20.5" text-anchor="end" textLength="9.4" lengthAdjust="spacingAndGlyphs" fill="#222" stroke="#222" stroke-width="0.35">0</text>
<text x="65.8" y="436.74" font-size="20.5" text-anchor="end" textLength="18.9" lengthAdjust="spacingAndGlyphs" fill="#222" stroke="#222" stroke-width="0.35">20</text>
<text x="65.8" y="384.99" font-size="20.5" text-anchor="end" textLength="18.9" lengthAdjust="spacingAndGlyphs" fill="#222" stroke="#222" stroke-width="0.35">40</text>
<text x="65.8" y="333.23" font-size="20.5" text-anchor="end" textLength="18.9" lengthAdjust="spacingAndGlyphs" fill="#222" stroke="#222" stroke-width="0.35">60</text>
<text x="65.8" y="281.48" font-size="20.5" text-anchor="end" textLength="18.9" lengthAdjust="spacingAndGlyphs" fill="#222" stroke="#222" stroke-width="0.35">80</text>
<text x="65.8" y="229.72" font-size="20.5" text-anchor="end" textLength="28.3" lengthAdjust="spacingAndGlyphs" fill="#222" stroke="#222" stroke-width="0.35">100</text>
<text x="65.8" y="177.96" font-size="20.5" text-anchor="end" textLength="28.3" lengthAdjust="spacingAndGlyphs" fill="#222" stroke="#222" stroke-width="0.35">120</text>
<text x="65.8" y="126.21" font-size="20.5" text-anchor="end" textLength="28.3" lengthAdjust="spacingAndGlyphs" fill="#222" stroke="#222" stroke-width="0.35">140</text>
<text x="65.8" y="74.45" font-size="20.5" text-anchor="end" textLength="28.3" lengthAdjust="spacingAndGlyphs" fill="#222" stroke="#222" stroke-width="0.35">160</text>
<text x="65.8" y="22.70" font-size="20.5" text-anchor="end" textLength="28.3" lengthAdjust="spacingAndGlyphs" fill="#222" stroke="#222" stroke-width="0.35">180</text>
<text x="71.43" y="507.7" font-size="20.5" textLength="9.9" lengthAdjust="spacingAndGlyphs" fill="#222" stroke="#222" stroke-width="0.35">0</text>
<text x="185.25" y="507.7" font-size="20.5" textLength="19.9" lengthAdjust="spacingAndGlyphs" fill="#222" stroke="#222" stroke-width="0.35">20</text>
<text x="304.05" y="507.7" font-size="20.5" textLength="19.9" lengthAdjust="spacingAndGlyphs" fill="#222" stroke="#222" stroke-width="0.35">40</text>
<text x="422.85" y="507.7" font-size="20.5" textLength="19.9" lengthAdjust="spacingAndGlyphs" fill="#222" stroke="#222" stroke-width="0.35">60</text>
<text x="541.65" y="507.7" font-size="20.5" textLength="19.9" lengthAdjust="spacingAndGlyphs" fill="#222" stroke="#222" stroke-width="0.35">80</text>
<text x="655.48" y="507.7" font-size="20.5" textLength="29.8" lengthAdjust="spacingAndGlyphs" fill="#222" stroke="#222" stroke-width="0.35">100</text>
<text x="224.1" y="543" font-size="24" stroke="#000" stroke-width="0.75" textLength="183.9" lengthAdjust="spacingAndGlyphs">Dry shrinkage age</text>
<text x="410.8" y="541.9" font-size="26" textLength="30.2" lengthAdjust="spacingAndGlyphs">(d)</text>
<g transform="translate(27.6,331.6) rotate(-90)"><text x="0" y="0" font-size="23" stroke="#000" stroke-width="0.75" textLength="135.7" lengthAdjust="spacingAndGlyphs">Dry shrinkage</text><text x="143.4" y="-0.9" font-size="24.5" textLength="51" lengthAdjust="spacingAndGlyphs">(μm)</text></g>
<rect x="115.80" y="12.30" width="10.20" height="10.20" fill="#111111"/>
<text x="134.5" y="22.1" font-size="16" stroke="#000" stroke-width="0.7" textLength="36.3" lengthAdjust="spacingAndGlyphs">RG-1</text>
<circle cx="210.40" cy="17.40" r="5.86" fill="#ee2424"/>
<text x="226.1" y="22.1" font-size="16" stroke="#000" stroke-width="0.7" textLength="36.3" lengthAdjust="spacingAndGlyphs">RG-2</text>
<path d="M300.50,9.02L307.54,21.77L293.46,21.77Z" fill="#0b1fd0"/>
<text x="315.7" y="22.1" font-size="16" stroke="#000" stroke-width="0.7" textLength="36.3" lengthAdjust="spacingAndGlyphs">RG-3</text>
<path d="M390.00,25.57L397.04,12.82L382.96,12.82Z" fill="#16742a"/>
<text x="405.3" y="22.1" font-size="16" stroke="#000" stroke-width="0.7" textLength="36.3" lengthAdjust="spacingAndGlyphs">RG-4</text>
<path d="M479.80,10.06L487.14,17.40L479.80,24.74L472.46,17.40Z" fill="#9a4fdc"/>
<text x="492.8" y="22.1" font-size="16" stroke="#000" stroke-width="0.7" textLength="36.3" lengthAdjust="spacingAndGlyphs">RG-5</text>
<line x1="99.2" y1="39.6" x2="140.5" y2="39.6" stroke="#000" stroke-width="2.5"/>
<text x="141.6" y="44.9" font-size="15" stroke="#000" stroke-width="0.65" textLength="117.6" lengthAdjust="spacingAndGlyphs">RG-1 Fitting curve</text>
<line x1="261.1" y1="39.4" x2="296.1" y2="39.4" stroke="#ee2424" stroke-width="2.5" stroke-dasharray="12.3 10.5"/>
<text x="299.6" y="44.9" font-size="15" stroke="#000" stroke-width="0.65" textLength="116.8" lengthAdjust="spacingAndGlyphs">RG-2 Fitting curve</text>
<line x1="423.9" y1="39.4" x2="455" y2="39.4" stroke="#0b1fd0" stroke-width="2.5" stroke-dasharray="4.1 9.5"/>
<text x="457.8" y="44.9" font-size="15" stroke="#000" stroke-width="0.65" textLength="116.2" lengthAdjust="spacingAndGlyphs">RG-3 Fitting curve</text>
<line x1="99.2" y1="62.0" x2="141.7" y2="62.0" stroke="#16742a" stroke-width="2.5" stroke-dasharray="13.9 5.3 4 5.3 14"/>
<text x="143.5" y="67.0" font-size="15" stroke="#000" stroke-width="0.65" textLength="116.4" lengthAdjust="spacingAndGlyphs">RG-4 Fitting curve</text>
<line x1="261.1" y1="62.1" x2="304.3" y2="62.1" stroke="#9a4fdc" stroke-width="2.5" stroke-dasharray="11.1 5.8 3.5 5.6 3.2 5.8 8.2"/>
<text x="310.2" y="67.0" font-size="15" stroke="#000" stroke-width="0.65" textLength="116.5" lengthAdjust="spacingAndGlyphs">RG-5 Fitting curve</text>
<line x1="202.1" y1="326" x2="230" y2="319.3" stroke="#000" stroke-width="1.5"/>
<path d="M239,317.2 L226.7,316.3 L228.3,323.2 Z" fill="#000"/>
<rect x="271.4" y="222.8" width="338.4" height="207.7" fill="#fff"/>
<defs><clipPath id="ic"><rect x="271.4" y="222.8" width="338.4" height="207.7"/></clipPath></defs>
<g clip-path="url(#ic)">
<path d="M287.62,420.86 L288.70,418.93 L289.79,417.01 L290.88,415.09 L291.97,413.19 L293.05,411.30 L294.14,409.42 L295.23,407.55 L296.32,405.69 L297.40,403.84 L298.49,402.00 L299.58,400.17 L300.67,398.35 L301.75,396.54 L302.84,394.74 L303.93,392.95 L305.02,391.17 L306.11,389.40 L307.19,387.63 L308.28,385.88 L309.37,384.14 L310.46,382.41 L311.54,380.68 L312.63,378.97 L313.72,377.26 L314.81,375.56 L315.89,373.88 L316.98,372.20 L318.07,370.53 L319.16,368.87 L320.24,367.22 L321.33,365.58 L322.42,363.94 L323.51,362.32 L324.59,360.70 L325.68,359.09 L326.77,357.50 L327.86,355.91 L328.94,354.33 L330.03,352.75 L331.12,351.19 L332.21,349.63 L333.29,348.09 L334.38,346.55 L335.47,345.02 L336.56,343.49 L337.64,341.98 L338.73,340.47 L339.82,338.98 L340.91,337.49 L342.00,336.00 L343.08,334.53 L344.17,333.06 L345.26,331.61 L346.35,330.16 L347.43,328.71 L348.52,327.28 L349.61,325.85 L350.70,324.44 L351.78,323.02 L352.87,321.62 L353.96,320.22 L355.05,318.84 L356.13,317.45 L357.22,316.08 L358.31,314.72 L359.40,313.36 L360.48,312.01 L361.57,310.66 L362.66,309.32 L363.75,307.99 L364.83,306.67 L365.92,305.36 L367.01,304.05 L368.10,302.75 L369.18,301.45 L370.27,300.17 L371.36,298.89 L372.45,297.61 L373.53,296.35 L374.62,295.09 L375.71,293.83 L376.80,292.59 L377.88,291.35 L378.97,290.12 L380.06,288.89 L381.15,287.67 L382.24,286.46 L383.32,285.25 L384.41,284.05 L385.50,282.86 L386.59,281.67 L387.67,280.49 L388.76,279.32 L389.85,278.15 L390.94,276.99 L392.02,275.84 L393.11,274.69 L394.20,273.54 L395.29,272.41 L396.37,271.28 L397.46,270.15 L398.55,269.04 L399.64,267.92 L400.72,266.82 L401.81,265.72 L402.90,264.62 L403.99,263.54 L405.07,262.45 L406.16,261.38 L407.25,260.31 L408.34,259.24 L409.42,258.18 L410.51,257.13 L411.60,256.08 L412.69,255.04 L413.77,254.00 L414.86,252.97 L415.95,251.95 L417.04,250.93 L418.12,249.91 L419.21,248.90 L420.30,247.90 L421.39,246.90 L422.48,245.91 L423.56,244.92 L424.65,243.94 L425.74,242.96 L426.83,241.99 L427.91,241.03 L429.00,240.07 L430.09,239.11 L431.18,238.16 L432.26,237.22 L433.35,236.28 L434.44,235.34 L435.53,234.41 L436.61,233.49 L437.70,232.57 L438.79,231.65 L439.88,230.74 L440.96,229.84 L442.05,228.93 L443.14,228.04 L444.23,227.15 L445.31,226.26 L446.40,225.38 L447.49,224.51 L448.58,223.63 L449.66,222.77 L450.75,221.91 L451.84,221.05 L452.93,220.20 L454.01,219.35 L455.10,218.50 L456.19,217.66 L457.28,216.83 L458.37,216.00 L459.45,215.17 L460.54,214.35 L461.63,213.54 L462.72,212.72 L463.80,211.92 L464.89,211.11 L465.98,210.31 L467.07,209.52 L468.15,208.73 L469.24,207.94 L470.33,207.16 L471.42,206.38 L472.50,205.61 L473.59,204.84 L474.68,204.07 L475.77,203.31 L476.85,202.56 L477.94,201.80 L479.03,201.05 L480.12,200.31 L481.20,199.57 L482.29,198.83 L483.38,198.10 L484.47,197.37 L485.55,196.64 L486.64,195.92 L487.73,195.21 L488.82,194.49 L489.90,193.78 L490.99,193.08 L492.08,192.38 L493.17,191.68 L494.25,190.98 L495.34,190.29 L496.43,189.61 L497.52,188.92 L498.61,188.24 L499.69,187.57 L500.78,186.90 L501.87,186.23 L502.96,185.56 L504.04,184.90 L505.13,184.24 L506.22,183.59 L507.31,182.94 L508.39,182.29 L509.48,181.65 L510.57,181.01 L511.66,180.37 L512.74,179.74 L513.83,179.11 L514.92,178.48 L516.01,177.86 L517.09,177.24 L518.18,176.63 L519.27,176.01 L520.36,175.40 L521.44,174.80 L522.53,174.19 L523.62,173.59 L524.71,173.00 L525.79,172.40 L526.88,171.81 L527.97,171.23 L529.06,170.64 L530.14,170.06 L531.23,169.49 L532.32,168.91 L533.41,168.34 L534.49,167.77 L535.58,167.21 L536.67,166.64 L537.76,166.09 L538.85,165.53 L539.93,164.98 L541.02,164.43 L542.11,163.88 L543.20,163.34 L544.28,162.79 L545.37,162.26 L546.46,161.72 L547.55,161.19 L548.63,160.66 L549.72,160.13 L550.81,159.61 L551.90,159.09 L552.98,158.57 L554.07,158.05 L555.16,157.54 L556.25,157.03 L557.33,156.52 L558.42,156.02 L559.51,155.52 L560.60,155.02 L561.68,154.52 L562.77,154.03 L563.86,153.54 L564.95,153.05 L566.03,152.56 L567.12,152.08 L568.21,151.60 L569.30,151.12 L570.38,150.65 L571.47,150.18 L572.56,149.71 L573.65,149.24 L574.74,148.77 L575.82,148.31 L576.91,147.85 L578.00,147.39 L579.09,146.94 L580.17,146.49 L581.26,146.04 L582.35,145.59 L583.44,145.14 L584.52,144.70 L585.61,144.26 L586.70,143.82 L587.79,143.39 L588.87,142.95 L589.96,142.52 L591.05,142.09 L592.14,141.67 L593.22,141.24 L594.31,140.82 L595.40,140.40 L596.49,139.98 L597.57,139.57 L598.66,139.16 L599.75,138.75 L600.84,138.34 L601.92,137.93 L603.01,137.53 L604.10,137.12 L605.19,136.73 L606.27,136.33 L607.36,135.93 L608.45,135.54 L609.54,135.15 L610.62,134.76 L611.71,134.37 L612.80,133.99" fill="none" stroke="#222" stroke-width="1.4"/>
<path d="M287.62,422.60 L288.70,420.72 L289.79,418.86 L290.88,417.00 L291.97,415.15 L293.05,413.32 L294.14,411.49 L295.23,409.67 L296.32,407.87 L297.40,406.07 L298.49,404.29 L299.58,402.51 L300.67,400.74 L301.75,398.99 L302.84,397.24 L303.93,395.51 L305.02,393.78 L306.11,392.06 L307.19,390.35 L308.28,388.65 L309.37,386.97 L310.46,385.29 L311.54,383.62 L312.63,381.95 L313.72,380.30 L314.81,378.66 L315.89,377.03 L316.98,375.40 L318.07,373.79 L319.16,372.18 L320.24,370.58 L321.33,368.99 L322.42,367.41 L323.51,365.84 L324.59,364.28 L325.68,362.73 L326.77,361.18 L327.86,359.65 L328.94,358.12 L330.03,356.60 L331.12,355.09 L332.21,353.58 L333.29,352.09 L334.38,350.60 L335.47,349.13 L336.56,347.66 L337.64,346.20 L338.73,344.74 L339.82,343.30 L340.91,341.86 L342.00,340.43 L343.08,339.01 L344.17,337.60 L345.26,336.19 L346.35,334.79 L347.43,333.40 L348.52,332.02 L349.61,330.65 L350.70,329.28 L351.78,327.92 L352.87,326.57 L353.96,325.23 L355.05,323.89 L356.13,322.56 L357.22,321.24 L358.31,319.92 L359.40,318.62 L360.48,317.32 L361.57,316.02 L362.66,314.74 L363.75,313.46 L364.83,312.19 L365.92,310.92 L367.01,309.67 L368.10,308.42 L369.18,307.17 L370.27,305.94 L371.36,304.71 L372.45,303.48 L373.53,302.27 L374.62,301.06 L375.71,299.86 L376.80,298.66 L377.88,297.47 L378.97,296.29 L380.06,295.11 L381.15,293.94 L382.24,292.78 L383.32,291.62 L384.41,290.47 L385.50,289.33 L386.59,288.19 L387.67,287.06 L388.76,285.94 L389.85,284.82 L390.94,283.71 L392.02,282.60 L393.11,281.50 L394.20,280.41 L395.29,279.32 L396.37,278.24 L397.46,277.16 L398.55,276.09 L399.64,275.03 L400.72,273.97 L401.81,272.92 L402.90,271.87 L403.99,270.83 L405.07,269.80 L406.16,268.77 L407.25,267.75 L408.34,266.73 L409.42,265.72 L410.51,264.71 L411.60,263.71 L412.69,262.72 L413.77,261.73 L414.86,260.74 L415.95,259.76 L417.04,258.79 L418.12,257.82 L419.21,256.86 L420.30,255.91 L421.39,254.95 L422.48,254.01 L423.56,253.07 L424.65,252.13 L425.74,251.20 L426.83,250.27 L427.91,249.35 L429.00,248.44 L430.09,247.53 L431.18,246.62 L432.26,245.72 L433.35,244.83 L434.44,243.94 L435.53,243.05 L436.61,242.17 L437.70,241.30 L438.79,240.43 L439.88,239.56 L440.96,238.70 L442.05,237.85 L443.14,236.99 L444.23,236.15 L445.31,235.31 L446.40,234.47 L447.49,233.64 L448.58,232.81 L449.66,231.98 L450.75,231.17 L451.84,230.35 L452.93,229.54 L454.01,228.74 L455.10,227.94 L456.19,227.14 L457.28,226.35 L458.37,225.56 L459.45,224.78 L460.54,224.00 L461.63,223.23 L462.72,222.46 L463.80,221.69 L464.89,220.93 L465.98,220.17 L467.07,219.42 L468.15,218.67 L469.24,217.92 L470.33,217.18 L471.42,216.45 L472.50,215.71 L473.59,214.99 L474.68,214.26 L475.77,213.54 L476.85,212.83 L477.94,212.11 L479.03,211.41 L480.12,210.70 L481.20,210.00 L482.29,209.30 L483.38,208.61 L484.47,207.92 L485.55,207.24 L486.64,206.56 L487.73,205.88 L488.82,205.21 L489.90,204.54 L490.99,203.87 L492.08,203.21 L493.17,202.55 L494.25,201.89 L495.34,201.24 L496.43,200.59 L497.52,199.95 L498.61,199.31 L499.69,198.67 L500.78,198.04 L501.87,197.41 L502.96,196.78 L504.04,196.16 L505.13,195.54 L506.22,194.92 L507.31,194.31 L508.39,193.70 L509.48,193.09 L510.57,192.49 L511.66,191.89 L512.74,191.30 L513.83,190.70 L514.92,190.11 L516.01,189.53 L517.09,188.95 L518.18,188.37 L519.27,187.79 L520.36,187.22 L521.44,186.65 L522.53,186.08 L523.62,185.52 L524.71,184.96 L525.79,184.40 L526.88,183.84 L527.97,183.29 L529.06,182.74 L530.14,182.20 L531.23,181.66 L532.32,181.12 L533.41,180.58 L534.49,180.05 L535.58,179.52 L536.67,178.99 L537.76,178.47 L538.85,177.95 L539.93,177.43 L541.02,176.91 L542.11,176.40 L543.20,175.89 L544.28,175.38 L545.37,174.88 L546.46,174.38 L547.55,173.88 L548.63,173.38 L549.72,172.89 L550.81,172.40 L551.90,171.91 L552.98,171.43 L554.07,170.94 L555.16,170.46 L556.25,169.99 L557.33,169.51 L558.42,169.04 L559.51,168.57 L560.60,168.11 L561.68,167.64 L562.77,167.18 L563.86,166.72 L564.95,166.27 L566.03,165.81 L567.12,165.36 L568.21,164.91 L569.30,164.47 L570.38,164.02 L571.47,163.58 L572.56,163.14 L573.65,162.71 L574.74,162.27 L575.82,161.84 L576.91,161.41 L578.00,160.99 L579.09,160.56 L580.17,160.14 L581.26,159.72 L582.35,159.30 L583.44,158.89 L584.52,158.48 L585.61,158.07 L586.70,157.66 L587.79,157.25 L588.87,156.85 L589.96,156.45 L591.05,156.05 L592.14,155.65 L593.22,155.26 L594.31,154.86 L595.40,154.47 L596.49,154.09 L597.57,153.70 L598.66,153.32 L599.75,152.93 L600.84,152.55 L601.92,152.18 L603.01,151.80 L604.10,151.43 L605.19,151.06 L606.27,150.69 L607.36,150.32 L608.45,149.96 L609.54,149.59 L610.62,149.23 L611.71,148.87 L612.80,148.52" fill="none" stroke="#ee2424" stroke-width="1.6" stroke-dasharray="4.8 5.8"/>
<path d="M287.62,426.24 L288.70,424.46 L289.79,422.69 L290.88,420.94 L291.97,419.19 L293.05,417.45 L294.14,415.72 L295.23,414.00 L296.32,412.29 L297.40,410.59 L298.49,408.90 L299.58,407.22 L300.67,405.55 L301.75,403.89 L302.84,402.24 L303.93,400.59 L305.02,398.96 L306.11,397.33 L307.19,395.72 L308.28,394.11 L309.37,392.51 L310.46,390.93 L311.54,389.35 L312.63,387.78 L313.72,386.21 L314.81,384.66 L315.89,383.12 L316.98,381.58 L318.07,380.05 L319.16,378.53 L320.24,377.02 L321.33,375.52 L322.42,374.03 L323.51,372.55 L324.59,371.07 L325.68,369.60 L326.77,368.14 L327.86,366.69 L328.94,365.25 L330.03,363.81 L331.12,362.38 L332.21,360.96 L333.29,359.55 L334.38,358.15 L335.47,356.75 L336.56,355.37 L337.64,353.99 L338.73,352.61 L339.82,351.25 L340.91,349.89 L342.00,348.54 L343.08,347.20 L344.17,345.87 L345.26,344.54 L346.35,343.22 L347.43,341.91 L348.52,340.61 L349.61,339.31 L350.70,338.02 L351.78,336.74 L352.87,335.46 L353.96,334.20 L355.05,332.94 L356.13,331.68 L357.22,330.43 L358.31,329.20 L359.40,327.96 L360.48,326.74 L361.57,325.52 L362.66,324.31 L363.75,323.10 L364.83,321.90 L365.92,320.71 L367.01,319.52 L368.10,318.35 L369.18,317.17 L370.27,316.01 L371.36,314.85 L372.45,313.70 L373.53,312.55 L374.62,311.41 L375.71,310.28 L376.80,309.15 L377.88,308.03 L378.97,306.92 L380.06,305.81 L381.15,304.71 L382.24,303.62 L383.32,302.53 L384.41,301.44 L385.50,300.37 L386.59,299.30 L387.67,298.23 L388.76,297.17 L389.85,296.12 L390.94,295.07 L392.02,294.03 L393.11,293.00 L394.20,291.97 L395.29,290.94 L396.37,289.93 L397.46,288.91 L398.55,287.91 L399.64,286.91 L400.72,285.91 L401.81,284.92 L402.90,283.94 L403.99,282.96 L405.07,281.99 L406.16,281.02 L407.25,280.06 L408.34,279.10 L409.42,278.15 L410.51,277.20 L411.60,276.26 L412.69,275.33 L413.77,274.40 L414.86,273.47 L415.95,272.55 L417.04,271.64 L418.12,270.73 L419.21,269.83 L420.30,268.93 L421.39,268.03 L422.48,267.14 L423.56,266.26 L424.65,265.38 L425.74,264.51 L426.83,263.64 L427.91,262.77 L429.00,261.91 L430.09,261.06 L431.18,260.21 L432.26,259.36 L433.35,258.52 L434.44,257.69 L435.53,256.86 L436.61,256.03 L437.70,255.21 L438.79,254.39 L439.88,253.58 L440.96,252.77 L442.05,251.97 L443.14,251.17 L444.23,250.38 L445.31,249.59 L446.40,248.80 L447.49,248.02 L448.58,247.24 L449.66,246.47 L450.75,245.70 L451.84,244.94 L452.93,244.18 L454.01,243.43 L455.10,242.67 L456.19,241.93 L457.28,241.19 L458.37,240.45 L459.45,239.71 L460.54,238.98 L461.63,238.26 L462.72,237.54 L463.80,236.82 L464.89,236.10 L465.98,235.39 L467.07,234.69 L468.15,233.99 L469.24,233.29 L470.33,232.60 L471.42,231.91 L472.50,231.22 L473.59,230.54 L474.68,229.86 L475.77,229.19 L476.85,228.51 L477.94,227.85 L479.03,227.18 L480.12,226.52 L481.20,225.87 L482.29,225.22 L483.38,224.57 L484.47,223.92 L485.55,223.28 L486.64,222.64 L487.73,222.01 L488.82,221.38 L489.90,220.75 L490.99,220.13 L492.08,219.51 L493.17,218.89 L494.25,218.28 L495.34,217.67 L496.43,217.07 L497.52,216.46 L498.61,215.86 L499.69,215.27 L500.78,214.68 L501.87,214.09 L502.96,213.50 L504.04,212.92 L505.13,212.34 L506.22,211.76 L507.31,211.19 L508.39,210.62 L509.48,210.05 L510.57,209.49 L511.66,208.93 L512.74,208.37 L513.83,207.82 L514.92,207.27 L516.01,206.72 L517.09,206.18 L518.18,205.64 L519.27,205.10 L520.36,204.56 L521.44,204.03 L522.53,203.50 L523.62,202.97 L524.71,202.45 L525.79,201.93 L526.88,201.41 L527.97,200.90 L529.06,200.39 L530.14,199.88 L531.23,199.37 L532.32,198.87 L533.41,198.37 L534.49,197.87 L535.58,197.37 L536.67,196.88 L537.76,196.39 L538.85,195.91 L539.93,195.42 L541.02,194.94 L542.11,194.46 L543.20,193.99 L544.28,193.52 L545.37,193.04 L546.46,192.58 L547.55,192.11 L548.63,191.65 L549.72,191.19 L550.81,190.73 L551.90,190.28 L552.98,189.83 L554.07,189.38 L555.16,188.93 L556.25,188.48 L557.33,188.04 L558.42,187.60 L559.51,187.17 L560.60,186.73 L561.68,186.30 L562.77,185.87 L563.86,185.44 L564.95,185.02 L566.03,184.59 L567.12,184.17 L568.21,183.76 L569.30,183.34 L570.38,182.93 L571.47,182.52 L572.56,182.11 L573.65,181.70 L574.74,181.30 L575.82,180.90 L576.91,180.50 L578.00,180.10 L579.09,179.71 L580.17,179.31 L581.26,178.92 L582.35,178.53 L583.44,178.15 L584.52,177.76 L585.61,177.38 L586.70,177.00 L587.79,176.63 L588.87,176.25 L589.96,175.88 L591.05,175.51 L592.14,175.14 L593.22,174.77 L594.31,174.40 L595.40,174.04 L596.49,173.68 L597.57,173.32 L598.66,172.97 L599.75,172.61 L600.84,172.26 L601.92,171.91 L603.01,171.56 L604.10,171.21 L605.19,170.87 L606.27,170.52 L607.36,170.18 L608.45,169.84 L609.54,169.51 L610.62,169.17 L611.71,168.84 L612.80,168.50" fill="none" stroke="#0b1fd0" stroke-width="1.6" stroke-dasharray="1.3 5.1"/>
<path d="M287.62,422.25 L288.70,420.62 L289.79,419.00 L290.88,417.39 L291.97,415.78 L293.05,414.19 L294.14,412.61 L295.23,411.03 L296.32,409.46 L297.40,407.90 L298.49,406.36 L299.58,404.81 L300.67,403.28 L301.75,401.76 L302.84,400.24 L303.93,398.74 L305.02,397.24 L306.11,395.75 L307.19,394.27 L308.28,392.79 L309.37,391.33 L310.46,389.87 L311.54,388.42 L312.63,386.98 L313.72,385.55 L314.81,384.12 L315.89,382.71 L316.98,381.30 L318.07,379.90 L319.16,378.50 L320.24,377.12 L321.33,375.74 L322.42,374.37 L323.51,373.01 L324.59,371.65 L325.68,370.30 L326.77,368.96 L327.86,367.63 L328.94,366.31 L330.03,364.99 L331.12,363.68 L332.21,362.37 L333.29,361.08 L334.38,359.79 L335.47,358.51 L336.56,357.23 L337.64,355.97 L338.73,354.71 L339.82,353.45 L340.91,352.21 L342.00,350.97 L343.08,349.73 L344.17,348.51 L345.26,347.29 L346.35,346.08 L347.43,344.87 L348.52,343.68 L349.61,342.48 L350.70,341.30 L351.78,340.12 L352.87,338.95 L353.96,337.78 L355.05,336.62 L356.13,335.47 L357.22,334.33 L358.31,333.19 L359.40,332.05 L360.48,330.93 L361.57,329.80 L362.66,328.69 L363.75,327.58 L364.83,326.48 L365.92,325.38 L367.01,324.29 L368.10,323.21 L369.18,322.13 L370.27,321.06 L371.36,319.99 L372.45,318.93 L373.53,317.88 L374.62,316.83 L375.71,315.79 L376.80,314.75 L377.88,313.72 L378.97,312.70 L380.06,311.68 L381.15,310.67 L382.24,309.66 L383.32,308.66 L384.41,307.66 L385.50,306.67 L386.59,305.68 L387.67,304.70 L388.76,303.73 L389.85,302.76 L390.94,301.79 L392.02,300.83 L393.11,299.88 L394.20,298.93 L395.29,297.99 L396.37,297.05 L397.46,296.12 L398.55,295.19 L399.64,294.27 L400.72,293.36 L401.81,292.44 L402.90,291.54 L403.99,290.64 L405.07,289.74 L406.16,288.85 L407.25,287.96 L408.34,287.08 L409.42,286.20 L410.51,285.33 L411.60,284.47 L412.69,283.60 L413.77,282.75 L414.86,281.89 L415.95,281.05 L417.04,280.20 L418.12,279.37 L419.21,278.53 L420.30,277.70 L421.39,276.88 L422.48,276.06 L423.56,275.24 L424.65,274.43 L425.74,273.63 L426.83,272.83 L427.91,272.03 L429.00,271.24 L430.09,270.45 L431.18,269.66 L432.26,268.88 L433.35,268.11 L434.44,267.34 L435.53,266.57 L436.61,265.81 L437.70,265.05 L438.79,264.30 L439.88,263.55 L440.96,262.80 L442.05,262.06 L443.14,261.32 L444.23,260.59 L445.31,259.86 L446.40,259.14 L447.49,258.41 L448.58,257.70 L449.66,256.98 L450.75,256.28 L451.84,255.57 L452.93,254.87 L454.01,254.17 L455.10,253.48 L456.19,252.79 L457.28,252.10 L458.37,251.42 L459.45,250.74 L460.54,250.07 L461.63,249.40 L462.72,248.73 L463.80,248.07 L464.89,247.41 L465.98,246.75 L467.07,246.10 L468.15,245.45 L469.24,244.81 L470.33,244.17 L471.42,243.53 L472.50,242.90 L473.59,242.27 L474.68,241.64 L475.77,241.02 L476.85,240.40 L477.94,239.78 L479.03,239.17 L480.12,238.56 L481.20,237.95 L482.29,237.35 L483.38,236.75 L484.47,236.15 L485.55,235.56 L486.64,234.97 L487.73,234.38 L488.82,233.80 L489.90,233.22 L490.99,232.64 L492.08,232.07 L493.17,231.50 L494.25,230.93 L495.34,230.37 L496.43,229.81 L497.52,229.25 L498.61,228.69 L499.69,228.14 L500.78,227.59 L501.87,227.05 L502.96,226.51 L504.04,225.97 L505.13,225.43 L506.22,224.90 L507.31,224.37 L508.39,223.84 L509.48,223.32 L510.57,222.79 L511.66,222.28 L512.74,221.76 L513.83,221.25 L514.92,220.74 L516.01,220.23 L517.09,219.73 L518.18,219.22 L519.27,218.73 L520.36,218.23 L521.44,217.74 L522.53,217.25 L523.62,216.76 L524.71,216.27 L525.79,215.79 L526.88,215.31 L527.97,214.83 L529.06,214.36 L530.14,213.89 L531.23,213.42 L532.32,212.95 L533.41,212.49 L534.49,212.03 L535.58,211.57 L536.67,211.11 L537.76,210.66 L538.85,210.21 L539.93,209.76 L541.02,209.31 L542.11,208.87 L543.20,208.43 L544.28,207.99 L545.37,207.56 L546.46,207.12 L547.55,206.69 L548.63,206.26 L549.72,205.84 L550.81,205.41 L551.90,204.99 L552.98,204.57 L554.07,204.15 L555.16,203.74 L556.25,203.33 L557.33,202.92 L558.42,202.51 L559.51,202.10 L560.60,201.70 L561.68,201.30 L562.77,200.90 L563.86,200.50 L564.95,200.11 L566.03,199.72 L567.12,199.33 L568.21,198.94 L569.30,198.55 L570.38,198.17 L571.47,197.79 L572.56,197.41 L573.65,197.03 L574.74,196.65 L575.82,196.28 L576.91,195.91 L578.00,195.54 L579.09,195.18 L580.17,194.81 L581.26,194.45 L582.35,194.09 L583.44,193.73 L584.52,193.37 L585.61,193.02 L586.70,192.66 L587.79,192.31 L588.87,191.96 L589.96,191.62 L591.05,191.27 L592.14,190.93 L593.22,190.59 L594.31,190.25 L595.40,189.91 L596.49,189.58 L597.57,189.24 L598.66,188.91 L599.75,188.58 L600.84,188.25 L601.92,187.93 L603.01,187.60 L604.10,187.28 L605.19,186.96 L606.27,186.64 L607.36,186.32 L608.45,186.01 L609.54,185.69 L610.62,185.38 L611.71,185.07 L612.80,184.76" fill="none" stroke="#16742a" stroke-width="1.6" stroke-dasharray="4.9 2.9 1.4 2.8"/>
<path d="M287.62,425.97 L288.70,424.41 L289.79,422.85 L290.88,421.30 L291.97,419.76 L293.05,418.23 L294.14,416.70 L295.23,415.19 L296.32,413.68 L297.40,412.18 L298.49,410.69 L299.58,409.21 L300.67,407.74 L301.75,406.28 L302.84,404.82 L303.93,403.38 L305.02,401.94 L306.11,400.51 L307.19,399.08 L308.28,397.67 L309.37,396.26 L310.46,394.86 L311.54,393.47 L312.63,392.09 L313.72,390.72 L314.81,389.35 L315.89,387.99 L316.98,386.64 L318.07,385.29 L319.16,383.96 L320.24,382.63 L321.33,381.31 L322.42,380.00 L323.51,378.69 L324.59,377.39 L325.68,376.10 L326.77,374.82 L327.86,373.54 L328.94,372.27 L330.03,371.01 L331.12,369.75 L332.21,368.51 L333.29,367.27 L334.38,366.03 L335.47,364.81 L336.56,363.59 L337.64,362.37 L338.73,361.17 L339.82,359.97 L340.91,358.78 L342.00,357.59 L343.08,356.41 L344.17,355.24 L345.26,354.08 L346.35,352.92 L347.43,351.77 L348.52,350.62 L349.61,349.48 L350.70,348.35 L351.78,347.23 L352.87,346.11 L353.96,344.99 L355.05,343.89 L356.13,342.79 L357.22,341.69 L358.31,340.60 L359.40,339.52 L360.48,338.45 L361.57,337.38 L362.66,336.31 L363.75,335.26 L364.83,334.20 L365.92,333.16 L367.01,332.12 L368.10,331.09 L369.18,330.06 L370.27,329.04 L371.36,328.02 L372.45,327.01 L373.53,326.01 L374.62,325.01 L375.71,324.01 L376.80,323.03 L377.88,322.05 L378.97,321.07 L380.06,320.10 L381.15,319.13 L382.24,318.17 L383.32,317.22 L384.41,316.27 L385.50,315.33 L386.59,314.39 L387.67,313.46 L388.76,312.53 L389.85,311.61 L390.94,310.69 L392.02,309.78 L393.11,308.87 L394.20,307.97 L395.29,307.08 L396.37,306.18 L397.46,305.30 L398.55,304.42 L399.64,303.54 L400.72,302.67 L401.81,301.80 L402.90,300.94 L403.99,300.09 L405.07,299.24 L406.16,298.39 L407.25,297.55 L408.34,296.71 L409.42,295.88 L410.51,295.05 L411.60,294.23 L412.69,293.41 L413.77,292.60 L414.86,291.79 L415.95,290.99 L417.04,290.19 L418.12,289.39 L419.21,288.60 L420.30,287.82 L421.39,287.03 L422.48,286.26 L423.56,285.48 L424.65,284.72 L425.74,283.95 L426.83,283.19 L427.91,282.44 L429.00,281.69 L430.09,280.94 L431.18,280.20 L432.26,279.46 L433.35,278.73 L434.44,278.00 L435.53,277.27 L436.61,276.55 L437.70,275.83 L438.79,275.12 L439.88,274.41 L440.96,273.70 L442.05,273.00 L443.14,272.31 L444.23,271.61 L445.31,270.92 L446.40,270.24 L447.49,269.56 L448.58,268.88 L449.66,268.21 L450.75,267.54 L451.84,266.87 L452.93,266.21 L454.01,265.55 L455.10,264.89 L456.19,264.24 L457.28,263.60 L458.37,262.95 L459.45,262.31 L460.54,261.68 L461.63,261.04 L462.72,260.41 L463.80,259.79 L464.89,259.17 L465.98,258.55 L467.07,257.93 L468.15,257.32 L469.24,256.71 L470.33,256.11 L471.42,255.51 L472.50,254.91 L473.59,254.32 L474.68,253.73 L475.77,253.14 L476.85,252.56 L477.94,251.97 L479.03,251.40 L480.12,250.82 L481.20,250.25 L482.29,249.68 L483.38,249.12 L484.47,248.56 L485.55,248.00 L486.64,247.45 L487.73,246.89 L488.82,246.35 L489.90,245.80 L490.99,245.26 L492.08,244.72 L493.17,244.18 L494.25,243.65 L495.34,243.12 L496.43,242.59 L497.52,242.07 L498.61,241.55 L499.69,241.03 L500.78,240.51 L501.87,240.00 L502.96,239.49 L504.04,238.98 L505.13,238.48 L506.22,237.98 L507.31,237.48 L508.39,236.99 L509.48,236.50 L510.57,236.01 L511.66,235.52 L512.74,235.04 L513.83,234.55 L514.92,234.08 L516.01,233.60 L517.09,233.13 L518.18,232.66 L519.27,232.19 L520.36,231.72 L521.44,231.26 L522.53,230.80 L523.62,230.35 L524.71,229.89 L525.79,229.44 L526.88,228.99 L527.97,228.54 L529.06,228.10 L530.14,227.66 L531.23,227.22 L532.32,226.78 L533.41,226.35 L534.49,225.92 L535.58,225.49 L536.67,225.06 L537.76,224.64 L538.85,224.21 L539.93,223.79 L541.02,223.38 L542.11,222.96 L543.20,222.55 L544.28,222.14 L545.37,221.73 L546.46,221.33 L547.55,220.92 L548.63,220.52 L549.72,220.12 L550.81,219.73 L551.90,219.33 L552.98,218.94 L554.07,218.55 L555.16,218.17 L556.25,217.78 L557.33,217.40 L558.42,217.02 L559.51,216.64 L560.60,216.26 L561.68,215.89 L562.77,215.52 L563.86,215.15 L564.95,214.78 L566.03,214.41 L567.12,214.05 L568.21,213.69 L569.30,213.33 L570.38,212.97 L571.47,212.61 L572.56,212.26 L573.65,211.91 L574.74,211.56 L575.82,211.21 L576.91,210.87 L578.00,210.52 L579.09,210.18 L580.17,209.84 L581.26,209.50 L582.35,209.17 L583.44,208.83 L584.52,208.50 L585.61,208.17 L586.70,207.84 L587.79,207.52 L588.87,207.19 L589.96,206.87 L591.05,206.55 L592.14,206.23 L593.22,205.91 L594.31,205.60 L595.40,205.28 L596.49,204.97 L597.57,204.66 L598.66,204.35 L599.75,204.05 L600.84,203.74 L601.92,203.44 L603.01,203.14 L604.10,202.84 L605.19,202.54 L606.27,202.24 L607.36,201.95 L608.45,201.66 L609.54,201.36 L610.62,201.08 L611.71,200.79 L612.80,200.50" fill="none" stroke="#9a4fdc" stroke-width="1.6" stroke-dasharray="4 2.8 1.3 2.8 1.3 2.8"/>
<rect x="286.17" y="413.56" width="4.60" height="4.60" fill="#111111"/>
<rect x="303.24" y="390.08" width="4.60" height="4.60" fill="#111111"/>
<rect x="320.31" y="368.95" width="4.60" height="4.60" fill="#111111"/>
<rect x="337.38" y="341.02" width="4.60" height="4.60" fill="#111111"/>
<rect x="354.45" y="310.50" width="4.60" height="4.60" fill="#111111"/>
<rect x="371.52" y="282.10" width="4.60" height="4.60" fill="#111111"/>
<rect x="388.59" y="258.86" width="4.60" height="4.60" fill="#111111"/>
<rect x="422.73" y="235.38" width="4.60" height="4.60" fill="#111111"/>
<rect x="456.87" y="214.49" width="4.60" height="4.60" fill="#111111"/>
<rect x="491.01" y="192.89" width="4.60" height="4.60" fill="#111111"/>
<rect x="525.15" y="173.41" width="4.60" height="4.60" fill="#111111"/>
<rect x="559.29" y="157.68" width="4.60" height="4.60" fill="#111111"/>
<rect x="593.43" y="141.95" width="4.60" height="4.60" fill="#111111"/>
<circle cx="288.47" cy="418.20" r="2.64" fill="#ee2424"/>
<circle cx="305.54" cy="394.73" r="2.64" fill="#ee2424"/>
<circle cx="322.61" cy="373.60" r="2.64" fill="#ee2424"/>
<circle cx="339.68" cy="347.78" r="2.64" fill="#ee2424"/>
<circle cx="356.75" cy="322.19" r="2.64" fill="#ee2424"/>
<circle cx="373.82" cy="294.25" r="2.64" fill="#ee2424"/>
<circle cx="390.89" cy="270.55" r="2.64" fill="#ee2424"/>
<circle cx="425.03" cy="248.95" r="2.64" fill="#ee2424"/>
<circle cx="459.17" cy="228.29" r="2.64" fill="#ee2424"/>
<circle cx="493.31" cy="209.51" r="2.64" fill="#ee2424"/>
<circle cx="527.45" cy="191.20" r="2.64" fill="#ee2424"/>
<circle cx="561.59" cy="174.06" r="2.64" fill="#ee2424"/>
<circle cx="595.73" cy="160.21" r="2.64" fill="#ee2424"/>
<path d="M288.47,415.80L291.64,421.55L285.30,421.55Z" fill="#0b1fd0"/>
<path d="M305.54,396.55L308.71,402.30L302.37,402.30Z" fill="#0b1fd0"/>
<path d="M322.61,374.72L325.78,380.47L319.44,380.47Z" fill="#0b1fd0"/>
<path d="M339.68,351.95L342.85,357.70L336.51,357.70Z" fill="#0b1fd0"/>
<path d="M356.75,325.89L359.92,331.64L353.58,331.64Z" fill="#0b1fd0"/>
<path d="M373.82,300.07L376.99,305.82L370.65,305.82Z" fill="#0b1fd0"/>
<path d="M390.89,279.41L394.06,285.16L387.72,285.16Z" fill="#0b1fd0"/>
<path d="M425.03,258.51L428.20,264.26L421.86,264.26Z" fill="#0b1fd0"/>
<path d="M459.17,238.33L462.34,244.08L456.00,244.08Z" fill="#0b1fd0"/>
<path d="M493.31,219.31L496.48,225.06L490.14,225.06Z" fill="#0b1fd0"/>
<path d="M527.45,202.41L530.62,208.16L524.28,208.16Z" fill="#0b1fd0"/>
<path d="M561.59,189.03L564.76,194.78L558.42,194.78Z" fill="#0b1fd0"/>
<path d="M595.73,174.94L598.90,180.69L592.56,180.69Z" fill="#0b1fd0"/>
<path d="M288.47,422.72L291.64,416.97L285.30,416.97Z" fill="#16742a"/>
<path d="M305.54,402.77L308.71,397.02L302.37,397.02Z" fill="#16742a"/>
<path d="M322.61,381.64L325.78,375.89L319.44,375.89Z" fill="#16742a"/>
<path d="M339.68,360.04L342.85,354.29L336.51,354.29Z" fill="#16742a"/>
<path d="M356.75,334.69L359.92,328.94L353.58,328.94Z" fill="#16742a"/>
<path d="M373.82,311.22L376.99,305.47L370.65,305.47Z" fill="#16742a"/>
<path d="M390.89,292.67L394.06,286.92L387.72,286.92Z" fill="#16742a"/>
<path d="M425.03,273.65L428.20,267.90L421.86,267.90Z" fill="#16742a"/>
<path d="M459.17,257.69L462.34,251.94L456.00,251.94Z" fill="#16742a"/>
<path d="M493.31,241.02L496.48,235.27L490.14,235.27Z" fill="#16742a"/>
<path d="M527.45,225.06L530.62,219.31L524.28,219.31Z" fill="#16742a"/>
<path d="M561.59,211.68L564.76,205.93L558.42,205.93Z" fill="#16742a"/>
<path d="M595.73,200.18L598.90,194.43L592.56,194.43Z" fill="#16742a"/>
<path d="M288.47,420.06L291.78,423.37L288.47,426.68L285.16,423.37Z" fill="#9a4fdc"/>
<path d="M305.54,400.81L308.85,404.12L305.54,407.43L302.23,404.12Z" fill="#9a4fdc"/>
<path d="M322.61,379.91L325.92,383.23L322.61,386.54L319.30,383.23Z" fill="#9a4fdc"/>
<path d="M339.68,358.79L342.99,362.10L339.68,365.41L336.37,362.10Z" fill="#9a4fdc"/>
<path d="M356.75,335.55L360.06,338.86L356.75,342.17L353.44,338.86Z" fill="#9a4fdc"/>
<path d="M373.82,314.18L377.13,317.50L373.82,320.81L370.51,317.50Z" fill="#9a4fdc"/>
<path d="M390.89,295.40L394.20,298.72L390.89,302.03L387.58,298.72Z" fill="#9a4fdc"/>
<path d="M425.03,276.39L428.34,279.70L425.03,283.01L421.72,279.70Z" fill="#9a4fdc"/>
<path d="M459.17,260.19L462.48,263.50L459.17,266.81L455.86,263.50Z" fill="#9a4fdc"/>
<path d="M493.31,243.52L496.62,246.84L493.31,250.15L490.00,246.84Z" fill="#9a4fdc"/>
<path d="M527.45,229.91L530.76,233.22L527.45,236.53L524.14,233.22Z" fill="#9a4fdc"/>
<path d="M561.59,218.17L564.90,221.48L561.59,224.79L558.28,221.48Z" fill="#9a4fdc"/>
<path d="M595.73,206.67L599.04,209.98L595.73,213.29L592.42,209.98Z" fill="#9a4fdc"/>
</g>
<g stroke="#3a3a3a" fill="none">
<rect x="271.4" y="222.8" width="338.4" height="207.7" stroke-width="1.5"/>
<line x1="271.4" y1="416.32" x2="275.8" y2="416.32" stroke-width="1.2"/>
<line x1="271.4" y1="392.85" x2="275.8" y2="392.85" stroke-width="1.2"/>
<line x1="271.4" y1="369.38" x2="275.8" y2="369.38" stroke-width="1.2"/>
<line x1="271.4" y1="345.90" x2="275.8" y2="345.90" stroke-width="1.2"/>
<line x1="271.4" y1="322.43" x2="275.8" y2="322.43" stroke-width="1.2"/>
<line x1="271.4" y1="298.95" x2="275.8" y2="298.95" stroke-width="1.2"/>
<line x1="271.4" y1="275.48" x2="275.8" y2="275.48" stroke-width="1.2"/>
<line x1="271.4" y1="252.00" x2="275.8" y2="252.00" stroke-width="1.2"/>
<line x1="271.4" y1="228.53" x2="275.8" y2="228.53" stroke-width="1.2"/>
<line x1="271.40" y1="430.5" x2="271.40" y2="426.3" stroke-width="1.2"/>
<line x1="305.54" y1="430.5" x2="305.54" y2="426.3" stroke-width="1.2"/>
<line x1="339.68" y1="430.5" x2="339.68" y2="426.3" stroke-width="1.2"/>
<line x1="373.82" y1="430.5" x2="373.82" y2="426.3" stroke-width="1.2"/>
<line x1="407.96" y1="430.5" x2="407.96" y2="426.3" stroke-width="1.2"/>
<line x1="442.10" y1="430.5" x2="442.10" y2="426.3" stroke-width="1.2"/>
<line x1="476.24" y1="430.5" x2="476.24" y2="426.3" stroke-width="1.2"/>
<line x1="510.38" y1="430.5" x2="510.38" y2="426.3" stroke-width="1.2"/>
<line x1="544.52" y1="430.5" x2="544.52" y2="426.3" stroke-width="1.2"/>
<line x1="578.66" y1="430.5" x2="578.66" y2="426.3" stroke-width="1.2"/>
</g>
<text x="266.6" y="419.93" font-size="9" text-anchor="end" fill="#1a1a1a" stroke="#1a1a1a" stroke-width="0.25">10</text>
<text x="266.6" y="396.45" font-size="9" text-anchor="end" fill="#1a1a1a" stroke="#1a1a1a" stroke-width="0.25">20</text>
<text x="266.6" y="372.98" font-size="9" text-anchor="end" fill="#1a1a1a" stroke="#1a1a1a" stroke-width="0.25">30</text>
<text x="266.6" y="349.50" font-size="9" text-anchor="end" fill="#1a1a1a" stroke="#1a1a1a" stroke-width="0.25">40</text>
<text x="266.6" y="326.03" font-size="9" text-anchor="end" fill="#1a1a1a" stroke="#1a1a1a" stroke-width="0.25">50</text>
<text x="266.6" y="302.55" font-size="9" text-anchor="end" fill="#1a1a1a" stroke="#1a1a1a" stroke-width="0.25">60</text>
<text x="266.6" y="279.08" font-size="9" text-anchor="end" fill="#1a1a1a" stroke="#1a1a1a" stroke-width="0.25">70</text>
<text x="266.6" y="255.60" font-size="9" text-anchor="end" fill="#1a1a1a" stroke="#1a1a1a" stroke-width="0.25">80</text>
<text x="266.6" y="232.12" font-size="9" text-anchor="end" fill="#1a1a1a" stroke="#1a1a1a" stroke-width="0.25">90</text>
<text x="271.40" y="443.4" font-size="9" text-anchor="middle" fill="#1a1a1a" stroke="#1a1a1a" stroke-width="0.25">0</text>
<text x="305.54" y="443.4" font-size="9" text-anchor="middle" fill="#1a1a1a" stroke="#1a1a1a" stroke-width="0.25">2</text>
<text x="339.68" y="443.4" font-size="9" text-anchor="middle" fill="#1a1a1a" stroke="#1a1a1a" stroke-width="0.25">4</text>
<text x="373.82" y="443.4" font-size="9" text-anchor="middle" fill="#1a1a1a" stroke="#1a1a1a" stroke-width="0.25">6</text>
<text x="407.96" y="443.4" font-size="9" text-anchor="middle" fill="#1a1a1a" stroke="#1a1a1a" stroke-width="0.25">8</text>
<text x="442.10" y="443.4" font-size="9" text-anchor="middle" fill="#1a1a1a" stroke="#1a1a1a" stroke-width="0.25">10</text>
<text x="476.24" y="443.4" font-size="9" text-anchor="middle" fill="#1a1a1a" stroke="#1a1a1a" stroke-width="0.25">12</text>
<text x="510.38" y="443.4" font-size="9" text-anchor="middle" fill="#1a1a1a" stroke="#1a1a1a" stroke-width="0.25">14</text>
<text x="544.52" y="443.4" font-size="9" text-anchor="middle" fill="#1a1a1a" stroke="#1a1a1a" stroke-width="0.25">16</text>
<text x="578.66" y="443.4" font-size="9" text-anchor="middle" fill="#1a1a1a" stroke="#1a1a1a" stroke-width="0.25">18</text>
<text x="374" y="458.4" font-size="11" stroke="#000" stroke-width="0.35" textLength="83.5" lengthAdjust="spacingAndGlyphs">Dry shrinkage age</text>
<text x="458.3" y="458.9" font-size="12" textLength="14" lengthAdjust="spacingAndGlyphs">(d)</text>
<g transform="translate(252.3,378) rotate(-90)"><text x="0" y="0" font-size="10.5" stroke="#000" stroke-width="0.35" textLength="64" lengthAdjust="spacingAndGlyphs">Dry shrinkage</text><text x="68" y="0" font-size="10.5" textLength="21" lengthAdjust="spacingAndGlyphs">(μm)</text></g>
</svg></body></html>
